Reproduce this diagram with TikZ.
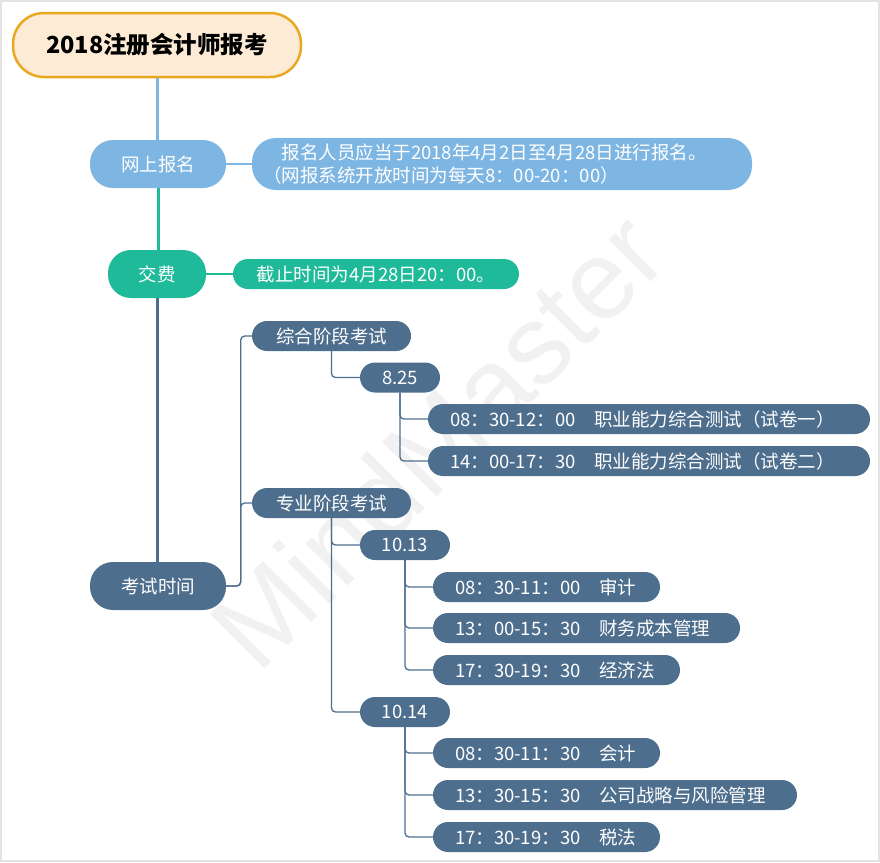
\documentclass[tikz,border=0pt]{standalone}
\usepackage{fontspec}
\setmainfont{Noto Sans CJK SC}
\newfontfamily\wmfont{Liberation Sans}
\definecolor{slate}{HTML}{4E6E8E}
\definecolor{lblue}{HTML}{7EB6E3}
\definecolor{teal2}{HTML}{1EBA9A}
\definecolor{peach}{HTML}{FDEBD5}
\definecolor{orangeb}{HTML}{E8A820}
\definecolor{frame}{HTML}{E3E3E3}
\definecolor{wm}{HTML}{F1F1F1}
\tikzset{
  pill/.style={rectangle, inner sep=0pt, text=white, font=\fontsize{18.5}{22}\selectfont},
  leaf/.style={pill, fill=slate, minimum height=30pt, rounded corners=15pt},
  item/.style={leaf, align=left, inner xsep=22pt},
  big/.style={pill, minimum height=48pt, rounded corners=23pt},
  conn/.style={draw=slate, line width=1.3pt, rounded corners=4pt},
  trunk/.style={line width=3pt}
}
\begin{document}
\begin{tikzpicture}[x=1pt,y=-1pt]
\useasboundingbox (0,0) rectangle (880,862);
\draw[frame, line width=2pt] (1,1) rectangle (879,861);
% watermark
\node[wm, font=\wmfont\fontsize{112}{112}\selectfont, rotate=45] (wmark) at (437,440) {MindMaster};
% nodes
\node[rectangle, fill=peach, draw=orangeb, line width=2.5pt, rounded corners=31pt,
      minimum width=288pt, minimum height=64pt, font=\bfseries\fontsize{23.5}{28}\selectfont] (title) at (157,45) {2018注册会计师报考};
\node[big, fill=lblue, minimum width=136pt] (wangshang) at (158,164) {网上报名};
\node[pill, fill=lblue, minimum width=500pt, minimum height=52pt, rounded corners=24pt,
      text width=478pt, align=left, font=\fontsize{18.5}{23}\selectfont] (detail1) at (502,164)
      {\hspace*{1em}报名人员应当于2018年4月2日至4月28日进行报名。\\（网报系统开放时间为每天8：00-20：00）};
\node[big, fill=teal2, minimum width=98pt] (jiaofei) at (157,274) {交费};
\node[pill, fill=teal2, minimum width=286pt, minimum height=30pt, rounded corners=15pt] (detail2) at (376,274) {截止时间为4月28日20：00。};
\node[big, fill=slate, minimum width=136pt] (kaoshi) at (158,586) {考试时间};
\node[leaf, minimum width=159pt] (zonghe) at (331.5,336) {综合阶段考试};
\node[leaf, minimum width=80pt] (d825) at (400,377.5) {8.25};
\node[item, text width=398pt] (z1) at (649,419) {08：30-12：00\hspace{1em}职业能力综合测试（试卷一）};
\node[item, text width=398pt] (z2) at (649,461) {14：00-17：30\hspace{1em}职业能力综合测试（试卷二）};
\node[leaf, minimum width=159pt] (zhuanye) at (331.5,503) {专业阶段考试};
\node[leaf, minimum width=90pt] (d1013) at (405,545) {10.13};
\node[item, text width=183pt] (s1) at (546.5,587) {08：30-11：00\hspace{1em}审计};
\node[item, text width=263pt] (s2) at (586.5,628) {13：00-15：30\hspace{1em}财务成本管理};
\node[item, text width=203pt] (s3) at (556.5,670) {17：30-19：30\hspace{1em}经济法};
\node[leaf, minimum width=90pt] (d1014) at (405,712) {10.14};
\node[item, text width=183pt] (t1) at (546.5,753) {08：30-11：30\hspace{1em}会计};
\node[item, text width=320pt] (t2) at (615,795) {13：30-15：30\hspace{1em}公司战略与风险管理};
\node[item, text width=183pt] (t3) at (546.5,837) {17：30-19：30\hspace{1em}税法};
% trunk
\draw[trunk, lblue] (title.south) -- (title.south |- wangshang.north);
\draw[trunk, teal2] (wangshang.south) -- (wangshang.south |- jiaofei.north);
\draw[trunk, slate] (jiaofei.south) -- (jiaofei.south |- kaoshi.north);
\draw[lblue, line width=2pt] (wangshang.east) -- (detail1.west);
\draw[teal2, line width=2pt] (jiaofei.east) -- (detail2.west);
% branches
\draw[conn] (kaoshi.east) -- ++(14.5,0) |- (zonghe.west);
\draw[conn] (kaoshi.east) -- ++(14.5,0) |- (zhuanye.west);
\draw[conn] (zonghe.south) |- (d825.west);
\draw[conn] (d825.south) |- (z1.west);
\draw[conn] (d825.south) |- (z2.west);
\draw[conn] (zhuanye.south) |- (d1013.west);
\draw[conn] (zhuanye.south) |- (d1014.west);
\draw[conn] (d1013.south) |- (s1.west);
\draw[conn] (d1013.south) |- (s2.west);
\draw[conn] (d1013.south) |- (s3.west);
\draw[conn] (d1014.south) |- (t1.west);
\draw[conn] (d1014.south) |- (t2.west);
\draw[conn] (d1014.south) |- (t3.west);
\end{tikzpicture}
\end{document}
